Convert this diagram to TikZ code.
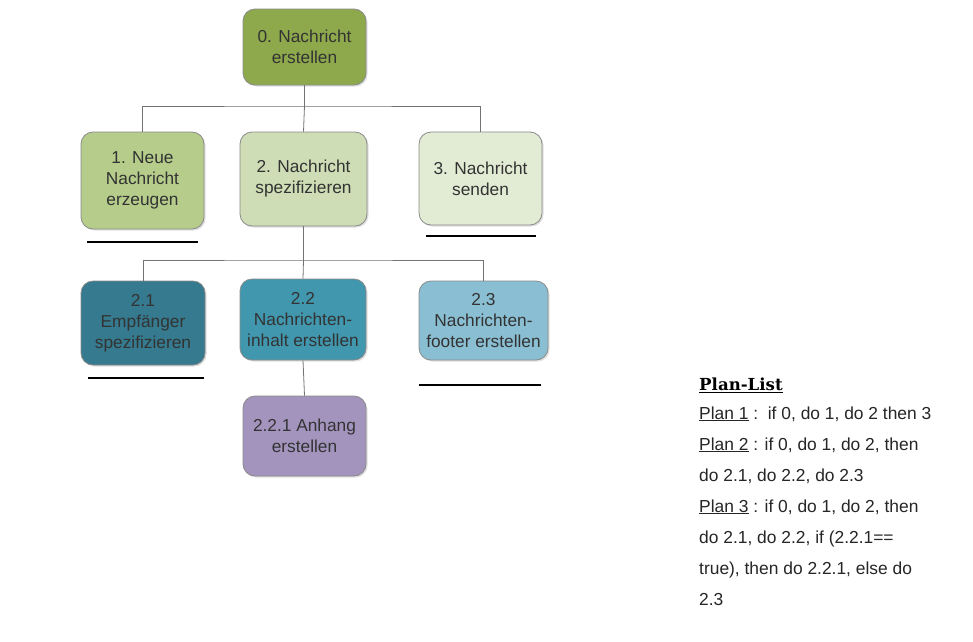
\documentclass[tikz,border=0pt]{standalone}
\usepackage{fontspec}
\setmainfont{Liberation Sans}
\newfontfamily\headfont{DejaVu Serif}
\usetikzlibrary{shadows,calc}
\definecolor{cZero}{HTML}{8EA94C}
\definecolor{cOne}{HTML}{B5CC8A}
\definecolor{cTwo}{HTML}{CEDDB5}
\definecolor{cThree}{HTML}{E2EBD4}
\definecolor{cTwoOne}{HTML}{357A8E}
\definecolor{cTwoTwo}{HTML}{4097AE}
\definecolor{cTwoThree}{HTML}{8ABFD3}
\definecolor{cAnh}{HTML}{A394BE}
\definecolor{txt}{HTML}{333333}
\definecolor{bord}{HTML}{8A8A8A}
\tikzset{
  taskbox/.style={draw=bord, line width=0.8pt, rounded corners=12pt, align=center,
    text=txt, font=\fontsize{17.3}{21}\selectfont, inner sep=0pt,
    drop shadow={opacity=0.25, shadow xshift=1.5pt, shadow yshift=-1.5pt}},
  conn/.style={draw=black!55, line width=0.8pt},
  uline/.style={draw=black, line width=1.5pt},
  plantxt/.style={anchor=base west, inner sep=0pt, text=black!85, font=\fontsize{17.4}{20}\selectfont},
}
\begin{document}
\begin{tikzpicture}[x=1pt,y=-1pt]
\fill[white] (0,0) rectangle (973,641);
\useasboundingbox (0,0) rectangle (973,641);

\node[taskbox, fill=cZero, minimum width=123pt, minimum height=76pt] (n0) at (304.5,47) {0. Nachricht\\erstellen};
\node[taskbox, fill=cOne, minimum width=123pt, minimum height=97pt] (n1) at (142.5,180.5) {1. Neue\\Nachricht\\erzeugen};
\node[taskbox, fill=cTwo, minimum width=127pt, minimum height=94pt] (n2) at (303.5,179) {2. Nachricht\\spezifizieren};
\node[taskbox, fill=cThree, minimum width=123pt, minimum height=93pt] (n3) at (480.5,178.5) {3. Nachricht\\senden};

\node[taskbox, fill=cTwoOne, minimum width=124pt, minimum height=84pt] (n21) at (143,323) {2.1\\Empfänger\\spezifizieren};
\node[taskbox, fill=cTwoTwo, minimum width=126pt, minimum height=81pt] (n22) at (303,319.5) {2.2\\Nachrichten-\\inhalt erstellen};
\node[taskbox, fill=cTwoThree, minimum width=129pt, minimum height=79pt] (n23) at (483.5,320.5) {2.3\\Nachrichten-\\footer erstellen};
\node[taskbox, fill=cAnh, minimum width=123pt, minimum height=80pt] (n221) at (304.5,436) {2.2.1 Anhang\\erstellen};

% connectors
\draw[conn] (n0.south) -- (n0.south |- 0,106) coordinate (b0);
\draw[conn] (n1.north) |- (b0) -| (n3.north);
\draw[conn] (b0) -- (n2.north);
\draw[conn] (n2.south) -- (n2.south |- 0,260) coordinate (b2);
\draw[conn] (n21.north) |- (b2) -| (n23.north);
\draw[conn] (b2) -- (n22.north);
\draw[conn] (n22.south) -- (n221.north);

% underlines
\draw[uline] (87,242) -- (198,242);
\draw[uline] (426,236) -- (536,236);
\draw[uline] (88,378) -- (204,378);
\draw[uline] (419,385) -- (541,385);

% plan list
\node[anchor=base west, inner sep=0pt, font=\headfont\bfseries\fontsize{16.6}{18}\selectfont] (ph) at (699,390) {Plan-List};
\draw[line width=1.2pt] (ph.base west) ++(0,2.5) -- ($(ph.base east)+(0,2.5)$);
\node[plantxt] (p1) at (699,419) {\underline{Plan 1} :\ \ if 0, do 1, do 2 then 3};
\node[plantxt] (p2) at (699,450) {\underline{Plan 2} : if 0, do 1, do 2, then};
\node[plantxt] (p3) at (699,481) {do 2.1, do 2.2, do 2.3};
\node[plantxt] (p4) at (699,512) {\underline{Plan 3} : if 0, do 1, do 2, then};
\node[plantxt] (p5) at (699,543) {do 2.1, do 2.2, if (2.2.1==};
\node[plantxt] (p6) at (699,574) {true), then do 2.2.1, else do};
\node[plantxt] (p7) at (699,605) {2.3};
\end{tikzpicture}
\end{document}
